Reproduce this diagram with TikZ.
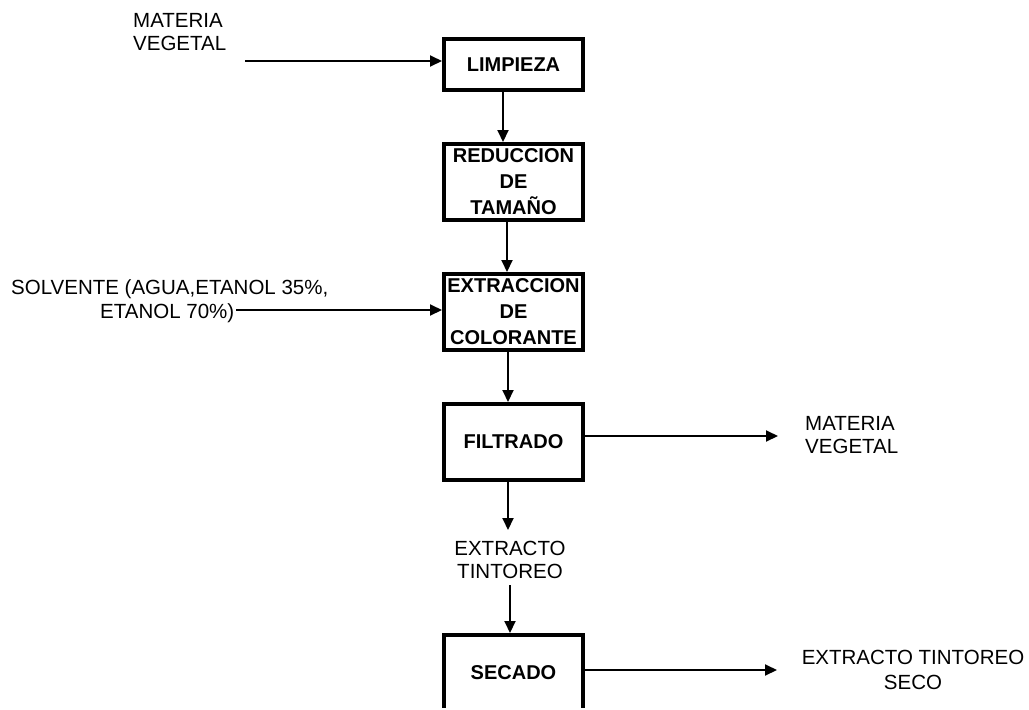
\documentclass[tikz,border=0pt]{standalone}
\usepackage{fontspec}
\setmainfont{Liberation Sans}
\usetikzlibrary{arrows.meta}
\tikzset{
  procbox/.style={draw, line width=4pt, minimum width=139pt, inner sep=0pt,
    align=center, font=\fontsize{20pt}{26pt}\selectfont\bfseries},
  lbl/.style={inner sep=0pt, font=\fontsize{20.5pt}{23pt}\selectfont},
  arr/.style={line width=2pt, -{Triangle[length=12pt,width=11pt]}}
}
\begin{document}
\begin{tikzpicture}[x=1pt,y=-1pt]
\useasboundingbox (0,0) rectangle (1029,710);
\clip (0,0) rectangle (1029,707.5);
% boxes
\node[procbox, minimum height=51pt] (limp) at (513.5,64.5) {LIMPIEZA};
\node[procbox, minimum height=76pt] (red) at (513.5,182) {REDUCCION\\DE\\TAMAÑO};
\node[procbox, minimum height=76pt] (ext) at (513.5,312) {EXTRACCION\\DE\\COLORANTE};
\node[procbox, minimum height=76pt] (fil) at (513.5,442) {FILTRADO};
\node[procbox, minimum height=76pt] (sec) at (513.5,673) {SECADO};
% labels
\node[lbl, align=left, anchor=west] (mv1) at (133,32) {MATERIA\\VEGETAL};
\node[lbl, align=left, anchor=west, font=\fontsize{20.5pt}{24pt}\selectfont] (solv) at (11,301)
  {SOLVENTE (AGUA,ETANOL 35\%,\\\hspace*{89pt}ETANOL 70\%)};
\node[lbl, align=left, anchor=west] (mv2) at (805,435) {MATERIA\\VEGETAL};
\node[lbl, align=center] (extt) at (510,560) {EXTRACTO\\TINTOREO};
\node[lbl, align=center, font=\fontsize{20.5pt}{25pt}\selectfont] (seco) at (913,670) {EXTRACTO TINTOREO\\SECO};
% connector ends
\coordinate (a1) at (245,61);
\coordinate (a2) at (236,310);
\coordinate (a3) at (778,436);
\coordinate (a4) at (508,530);
\coordinate (a5) at (510,585);
\coordinate (a6) at (777,670);
% connectors
\draw[arr] (a1) -- (a1 -| limp.west);
\draw[arr] ([xshift=-10.5pt]limp.south) -- ([xshift=-10.5pt]red.north);
\draw[arr] ([xshift=-6.5pt]red.south) -- ([xshift=-6.5pt]ext.north);
\draw[arr] (a2) -- (a2 -| ext.west);
\draw[arr] ([xshift=-5.5pt]ext.south) -- ([xshift=-5.5pt]fil.north);
\draw[arr] (a3 -| fil.east) -- (a3);
\draw[arr] (a4 |- fil.south) -- (a4);
\draw[arr] (a5) -- (a5 |- sec.north);
\draw[arr] (a6 -| sec.east) -- (a6);
\end{tikzpicture}
\end{document}
